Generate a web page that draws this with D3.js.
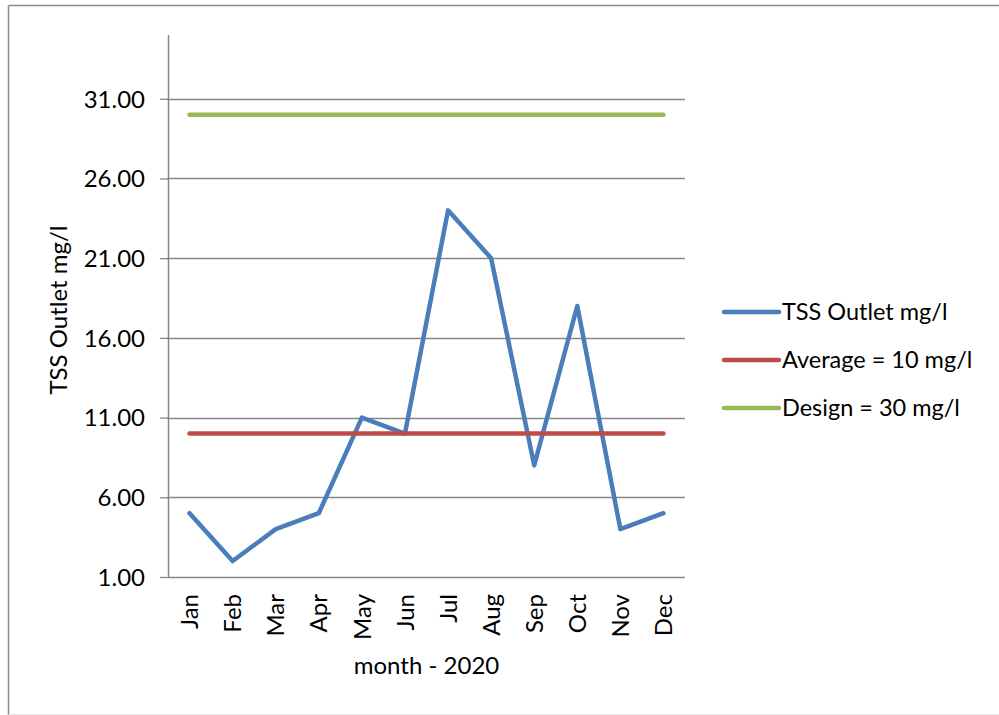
<!DOCTYPE html>
<html><head><meta charset="utf-8">
<script src="https://cdn.jsdelivr.net/npm/d3@7"></script>
<style>body{margin:0;background:#fff}svg{display:block}text{font-family:Lato,"Open Sans",sans-serif;fill:#000}</style>
</head><body><svg id="c" width="999" height="715"></svg>
<script>
const months = ["Jan","Feb","Mar","Apr","May","Jun","Jul","Aug","Sep","Oct","Nov","Dec"];
const tssOutlet = [5,2,4,5,11,10,24,21,8,18,4,5];
const average = [10,10,10,10,10,10,10,10,10,10,10,10];
const design = [30,30,30,30,30,30,30,30,30,30,30,30];
const yTicks = [1,6,11,16,21,26,31];
const seriesNames = ["TSS Outlet mg/l","Average = 10 mg/l","Design = 30 mg/l"];
const seriesColors = ["#4A7EBB","#BE4B48","#98B954"];

const svg = d3.select("#c");
// outer frame
svg.append("line").attr("x1",8.5).attr("x2",8.5).attr("y1",5.5).attr("y2",715).attr("stroke","#8c8c8c").attr("stroke-width",1.5);
svg.append("line").attr("x1",8.5).attr("x2",999).attr("y1",5.5).attr("y2",5.5).attr("stroke","#8c8c8c").attr("stroke-width",1.5);
svg.append("line").attr("x1",8.5).attr("x2",999).attr("y1",714.5).attr("y2",714.5).attr("stroke","#e6e6e6").attr("stroke-width",1);

const L=168, R=685, T=35, B=577;
const x = d3.scaleBand().domain(months).range([L,R]);
const y = d3.scaleLinear().domain([1,35]).range([B,T]);
const cx = m => x(m)+x.bandwidth()/2;

// gridlines
svg.append("g").selectAll("line").data(yTicks.slice(1)).join("line")
  .attr("x1",L).attr("x2",R).attr("y1",d=>Math.round(y(d))+0.5).attr("y2",d=>Math.round(y(d))+0.5)
  .attr("stroke","#868686").attr("stroke-width",1.3);

// y axis
const ya = svg.append("g").attr("transform",`translate(${L},0)`)
  .call(d3.axisLeft(y).tickValues(yTicks).tickFormat(d3.format(".2f")).tickSize(8).tickPadding(15));
ya.select(".domain").attr("stroke","#868686").attr("stroke-width",1.5).attr("d",`M0.5,${T}V${B}`);
ya.selectAll(".tick line").attr("stroke","#868686").attr("stroke-width",1.3);
ya.selectAll(".tick text").style("font-size","24px").attr("fill","#000").attr("dy","0.35em");

// x axis
const xa = svg.append("g").attr("transform",`translate(0,${B})`)
  .call(d3.axisBottom(x).tickSize(0).tickPadding(0));
xa.select(".domain").attr("stroke","#868686").attr("stroke-width",1.5).attr("d",`M${L},0.5H${R}`);
xa.selectAll(".tick text").style("font-size","24px").attr("fill","#000")
  .attr("transform","rotate(-90)").attr("text-anchor","end").attr("x",-17).attr("y",0).attr("dy","0.36em");

// axis titles
svg.append("text").attr("x",(L+R)/2).attr("y",674).attr("text-anchor","middle").style("font-size","24px").text("month - 2020");
svg.append("text").attr("transform",`translate(67,${(T+B)/2+4}) rotate(-90)`).attr("text-anchor","middle").style("font-size","24px").text("TSS Outlet mg/l");

// lines
const line = d3.line().x((d,i)=>cx(months[i])).y(d=>y(d));
[tssOutlet, average, design].forEach((s,i)=>{
  svg.append("path").datum(s).attr("d",line).attr("fill","none")
    .attr("stroke",seriesColors[i]).attr("stroke-width",4.5)
    .attr("stroke-linecap","round").attr("stroke-linejoin","round");
});

// legend
const lg = svg.append("g");
seriesNames.forEach((n,i)=>{
  const yy = 312 + i*48;
  lg.append("line").attr("x1",724).attr("x2",779).attr("y1",yy).attr("y2",yy)
    .attr("stroke",seriesColors[i]).attr("stroke-width",4.5).attr("stroke-linecap","round");
  lg.append("text").attr("x",782).attr("y",yy).attr("dy","0.35em").style("font-size","23.5px").text(n);
});
</script></body></html>
